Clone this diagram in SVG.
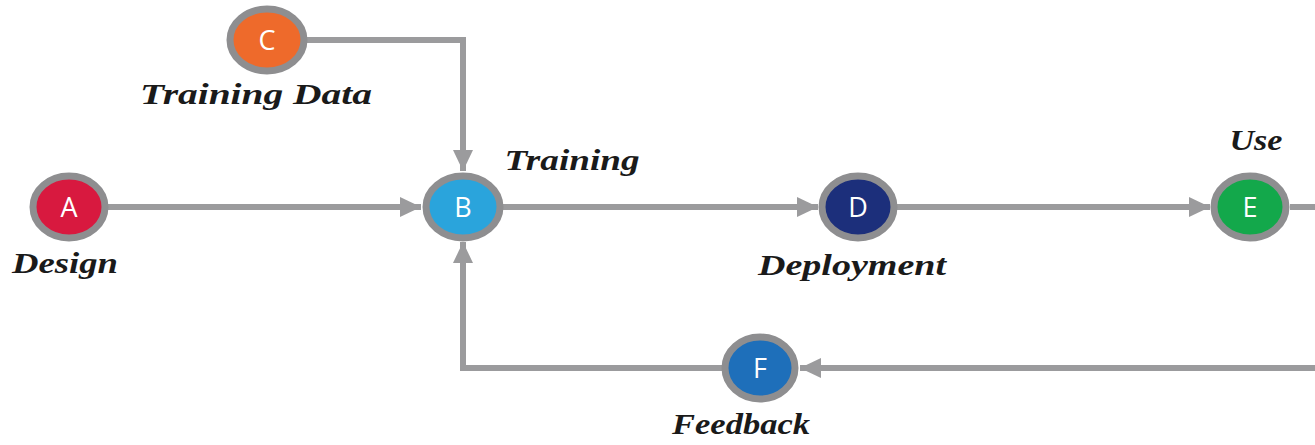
<svg xmlns="http://www.w3.org/2000/svg" width="1315" height="445" viewBox="0 0 1315 445">
<style>
.ln{fill:none;stroke:#9b9b9d;stroke-width:6;}
.nd{stroke:#8e8e90;stroke-width:7;}
.lt{font-family:"Open Sans","DejaVu Sans",sans-serif;font-size:27px;fill:#ffffff;text-anchor:middle;}
.lb{font-family:"Liberation Serif","DejaVu Serif",serif;font-style:italic;font-weight:bold;font-size:29px;fill:#1a1a1a;text-anchor:middle;}
</style>
<defs>
<marker id="ah" markerUnits="userSpaceOnUse" markerWidth="24" markerHeight="22" refX="21" refY="11" orient="auto">
<path d="M0,1 L21,11 L0,21 Z" fill="#9b9b9d"/>
</marker>
</defs>
<rect width="1315" height="445" fill="#ffffff"/>
<g id="connectors">
<path class="ln" d="M108,207 H421" marker-end="url(#ah)"/>
<path class="ln" d="M307,40 H463 V171" marker-end="url(#ah)"/>
<path class="ln" d="M503,207 H818" marker-end="url(#ah)"/>
<path class="ln" d="M897,207 H1210" marker-end="url(#ah)"/>
<path class="ln" d="M1290,207 H1320"/>
<path class="ln" d="M1320,368 H800" marker-end="url(#ah)"/>
<path class="ln" d="M722,368 H463 V242" marker-end="url(#ah)"/>
</g>
<g id="node-A">
<ellipse class="nd" cx="69" cy="207" rx="36" ry="31" fill="#d8193f"/>
<text class="lt" x="69" y="217">A</text>
<text class="lb" x="65" y="273" textLength="106" lengthAdjust="spacingAndGlyphs">Design</text>
</g>
<g id="node-B">
<ellipse class="nd" cx="463" cy="207" rx="37" ry="31" fill="#2aa4dc"/>
<text class="lt" x="463" y="217">B</text>
<text class="lb" x="572" y="170" textLength="135" lengthAdjust="spacingAndGlyphs">Training</text>
</g>
<g id="node-C">
<ellipse class="nd" cx="267" cy="40" rx="37" ry="31" fill="#ee6a2b"/>
<text class="lt" x="267" y="50">C</text>
<text class="lb" x="256" y="104" textLength="232" lengthAdjust="spacingAndGlyphs">Training Data</text>
</g>
<g id="node-D">
<ellipse class="nd" cx="858" cy="207" rx="36" ry="31" fill="#1c2f7b"/>
<text class="lt" x="858" y="217">D</text>
<text class="lb" x="852" y="275" textLength="188" lengthAdjust="spacingAndGlyphs">Deployment</text>
</g>
<g id="node-E">
<ellipse class="nd" cx="1250" cy="207" rx="36" ry="31" fill="#13a84b"/>
<text class="lt" x="1250" y="217">E</text>
<text class="lb" x="1256" y="150" textLength="53" lengthAdjust="spacingAndGlyphs">Use</text>
</g>
<g id="node-F">
<ellipse class="nd" cx="760" cy="368" rx="35" ry="31" fill="#1e6fba"/>
<text class="lt" x="760" y="378">F</text>
<text class="lb" x="741" y="434" textLength="138" lengthAdjust="spacingAndGlyphs">Feedback</text>
</g>
</svg>
